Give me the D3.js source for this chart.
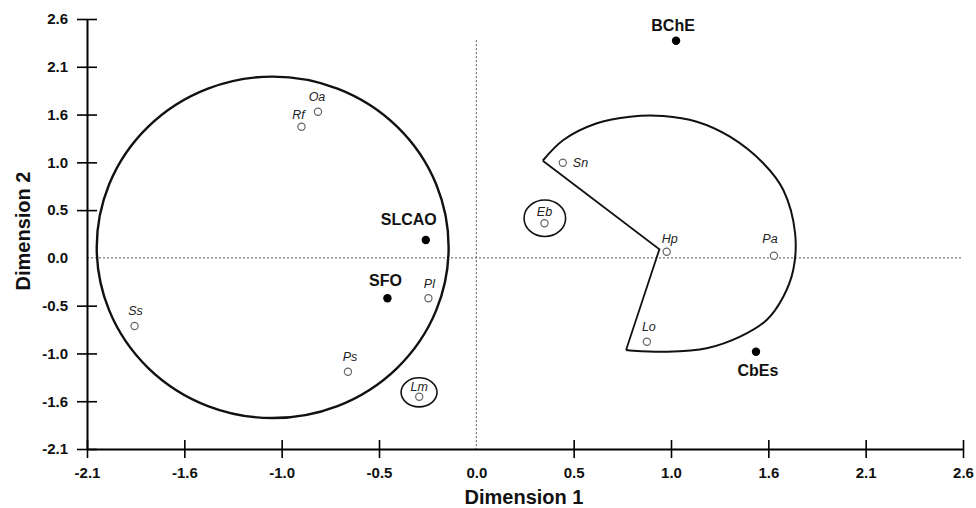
<!DOCTYPE html>
<html>
<head>
<meta charset="utf-8">
<script src="https://cdn.jsdelivr.net/npm/d3@7"></script>
<style>
  body { margin: 0; background: #fff; }
  svg text { font-family: "Liberation Sans", Arial, sans-serif; }
  .species { font-size: 12.5px; font-style: italic; fill: #222; }
  .group { font-size: 16px; font-weight: bold; fill: #111; }
  .title { font-size: 20px; font-weight: bold; fill: #111; }
</style>
</head>
<body>
<div id="chart"></div>
<script>
// tick values (labels are these rounded to one decimal)
const tickValues = [-2.08, -1.56, -1.04, -0.52, 0, 0.52, 1.04, 1.56, 2.08, 2.6];

// open circles: species
const speciesNames = ["Oa", "Rf", "Pl", "Ps", "Ss", "Lm", "Eb", "Sn", "Hp", "Pa", "Lo"];
const speciesX = [-0.846, -0.934, -0.256, -0.686, -1.826, -0.305, 0.364, 0.462, 1.017, 1.590, 0.911];
const speciesY = [1.591, 1.428, -0.440, -1.239, -0.741, -1.511, 0.377, 1.036, 0.067, 0.024, -0.912];

// filled dots: enzyme activities
const groupNames = ["BChE", "SLCAO", "SFO", "CbEs"];
const groupX = [1.067, -0.270, -0.475, 1.494];
const groupY = [2.364, 0.195, -0.440, -1.021];

// cluster outlines (data units)
const bigCircle = {cx: -1.088, cy: 0.115, rx: 0.94, ry: 1.858};
const smallRings = [
  {cx: -0.306, cy: -1.463, rx: 0.096, ry: 0.158},
  {cx: 0.366, cy: 0.431, rx: 0.111, ry: 0.199}
];
// wedge: tip -> inner vertex -> lower vertex (straight edges)
const wedgeEdges = [[0.355, 1.058], [0.978, 0.094], [0.800, -1.002]];
// wedge arc from lower vertex round to tip
const wedgeArc = [
  [0.800, -1.002], [0.839, -1.010], [1.017, -1.021], [1.231, -0.984], [1.409, -0.858],
  [1.551, -0.676], [1.640, -0.422], [1.693, -0.132], [1.703, 0.268], [1.640, 0.739],
  [1.533, 1.030], [1.355, 1.319], [1.178, 1.482], [0.999, 1.544], [0.821, 1.537],
  [0.644, 1.465], [0.465, 1.283], [0.355, 1.058]
];

const width = 976, height = 508;
const margin = {top: 19, right: 13, bottom: 59, left: 87};

const svg = d3.select("#chart").append("svg")
    .attr("width", width)
    .attr("height", height);

const x = d3.scaleLinear().domain([-2.08, 2.6]).range([margin.left, width - margin.right]);
const y = d3.scaleLinear().domain([-2.08, 2.6]).range([height - margin.bottom, margin.top]);
const locale = d3.formatLocale({decimal: ".", thousands: ",", grouping: [3], currency: ["", ""], minus: "-"});
const fmt1 = locale.format(".1f");
const fmt = d => Math.abs(d) < 1e-9 ? "0.0" : fmt1(d);

// dotted zero lines
svg.append("line")
    .attr("x1", x(-2.08)).attr("x2", x(2.6))
    .attr("y1", y(0)).attr("y2", y(0))
    .attr("stroke", "#555").attr("stroke-width", 1).attr("stroke-dasharray", "2,2");
svg.append("line")
    .attr("x1", x(0)).attr("x2", x(0))
    .attr("y1", y(2.37)).attr("y2", y(-2.08))
    .attr("stroke", "#555").attr("stroke-width", 1).attr("stroke-dasharray", "2,2");

// axes
const xAxis = svg.append("g")
    .attr("transform", `translate(0,${y(-2.08)})`)
    .call(d3.axisBottom(x).tickValues(tickValues).tickFormat(fmt).tickSize(9).tickSizeOuter(0).tickPadding(12));
const yAxis = svg.append("g")
    .attr("transform", `translate(${x(-2.08)},0)`)
    .call(d3.axisLeft(y).tickValues(tickValues).tickFormat(fmt).tickSize(10).tickSizeOuter(0).tickPadding(9));

[xAxis, yAxis].forEach(g => {
  g.attr("font-family", "'Liberation Sans', Arial, sans-serif")
   .attr("font-size", 15)
   .attr("font-weight", "bold");
  g.select(".domain").attr("stroke-width", 2);
  g.selectAll(".tick text").attr("fill", "#111");
});
xAxis.selectAll(".tick line").attr("y1", -9).attr("stroke-width", 1.6)
    .attr("display", d => d === 0 ? "none" : null);
yAxis.selectAll(".tick line").attr("x2", -10).attr("x1", 10).attr("stroke-width", 1.6)
    .attr("display", d => d === 0 ? "none" : null);
xAxis.selectAll(".tick text").attr("dy", "0.5em");

// titles
svg.append("text").attr("class", "title")
    .attr("x", 524).attr("y", 504)
    .attr("text-anchor", "middle")
    .text("Dimension 1");
svg.append("text").attr("class", "title")
    .attr("transform", "translate(30,231) rotate(-90)")
    .attr("text-anchor", "middle")
    .text("Dimension 2");

// cluster outlines
svg.append("ellipse")
    .attr("cx", x(bigCircle.cx)).attr("cy", y(bigCircle.cy))
    .attr("rx", x(bigCircle.cx + bigCircle.rx) - x(bigCircle.cx))
    .attr("ry", y(bigCircle.cy) - y(bigCircle.cy + bigCircle.ry))
    .attr("fill", "none").attr("stroke", "#111").attr("stroke-width", 2.4);

svg.selectAll(".ring")
    .data(smallRings)
    .join("ellipse")
    .attr("class", "ring")
    .attr("cx", d => x(d.cx)).attr("cy", d => y(d.cy))
    .attr("rx", d => x(d.cx + d.rx) - x(d.cx))
    .attr("ry", d => y(d.cy) - y(d.cy + d.ry))
    .attr("fill", "none").attr("stroke", "#111").attr("stroke-width", 1.6);

const line = d3.line().x(d => x(d[0])).y(d => y(d[1]));
svg.append("path")
    .attr("d", line(wedgeEdges))
    .attr("fill", "none").attr("stroke", "#111").attr("stroke-width", 1.8)
    .attr("stroke-linejoin", "miter");
svg.append("path")
    .attr("d", line.curve(d3.curveCatmullRom)(wedgeArc))
    .attr("fill", "none").attr("stroke", "#111").attr("stroke-width", 2);

// species points
const species = speciesNames.map((n, i) => ({name: n, x: speciesX[i], y: speciesY[i]}));
// label placement in px relative to the point
const speciesLabelOffset = {
  Oa: [-1, -11], Rf: [-3, -8], Pl: [1, -10], Ps: [2, -11], Ss: [1, -11], Lm: [0, -6],
  Eb: [0, -7], Hp: [3, -9], Pa: [-4, -13], Lo: [2, -11]
};

svg.selectAll(".sp")
    .data(species)
    .join("circle")
    .attr("class", "sp")
    .attr("cx", d => x(d.x)).attr("cy", d => y(d.y))
    .attr("r", 3.6)
    .attr("fill", "#fff").attr("stroke", "#666").attr("stroke-width", 1.2);

svg.selectAll(".species")
    .data(species)
    .join("text")
    .attr("class", "species")
    .attr("x", d => d.name === "Sn" ? x(d.x) + 10 : x(d.x) + speciesLabelOffset[d.name][0])
    .attr("y", d => d.name === "Sn" ? y(d.y) + 4.5 : y(d.y) + speciesLabelOffset[d.name][1])
    .attr("text-anchor", d => d.name === "Sn" ? "start" : "middle")
    .text(d => d.name);

// group points
const groups = groupNames.map((n, i) => ({name: n, x: groupX[i], y: groupY[i]}));
const groupLabelOffset = {BChE: [-3, -10], SLCAO: [-17, -15], SFO: [-2, -12], CbEs: [2, 24]};

svg.selectAll(".gp")
    .data(groups)
    .join("circle")
    .attr("class", "gp")
    .attr("cx", d => x(d.x)).attr("cy", d => y(d.y))
    .attr("r", 4.2)
    .attr("fill", "#000");

svg.selectAll(".group")
    .data(groups)
    .join("text")
    .attr("class", "group")
    .attr("x", d => x(d.x) + groupLabelOffset[d.name][0])
    .attr("y", d => y(d.y) + groupLabelOffset[d.name][1])
    .attr("text-anchor", "middle")
    .text(d => d.name);
</script>
</body>
</html>
